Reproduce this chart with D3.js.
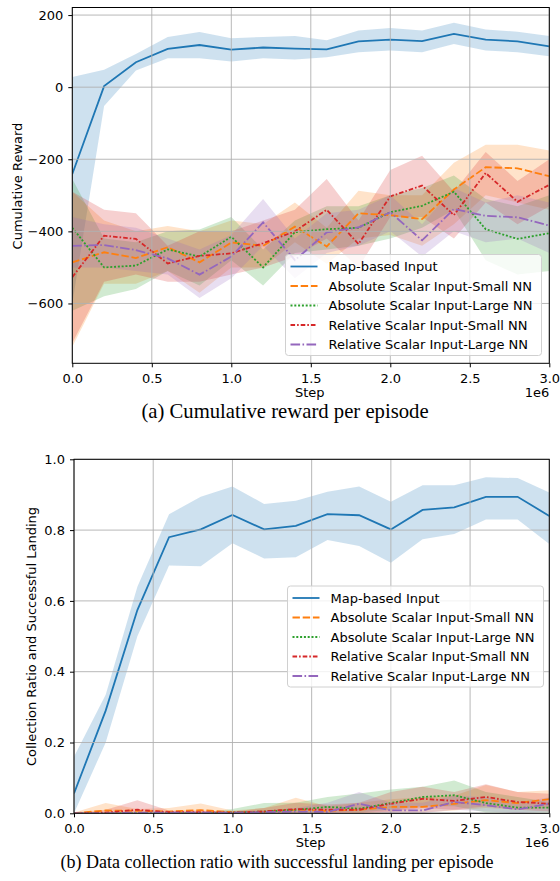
<!DOCTYPE html>
<meta charset="utf-8">
<style>
body { margin: 0; background: #fff; }
text { font-family: "DejaVu Sans", sans-serif; fill: #000; }
.caption { font-family: "Liberation Serif", "Times New Roman", serif; }
.grid line { stroke: #b0b0b0; stroke-width: 0.9px; }
</style>
<body>
<script src="https://d3js.org/d3.v7.min.js"></script>
<script>

// training steps (x 1e6)
var stepsM = [0, 0.2, 0.4, 0.6, 0.8, 1.0, 1.2, 1.4, 1.6, 1.8, 2.0, 2.2, 2.4, 2.6, 2.8, 3.0];
var xTicks = [0, 0.5, 1.0, 1.5, 2.0, 2.5, 3.0];

var seriesNames = ["Map-based Input", "Absolute Scalar Input-Small NN", "Absolute Scalar Input-Large NN",
                   "Relative Scalar Input-Small NN", "Relative Scalar Input-Large NN"];

// (a) cumulative reward: mean and shaded band
var rewardMap      = [-241, 3, 69, 106, 117, 104, 110, 107, 105, 127, 132, 128, 148, 132, 127, 113];
var rewardMapLo    = [-600, -52, 46, 80, 80, 71, 80, 77, 83, 97, 102, 97, 120, 102, 97, 86];
var rewardMapHi    = [28, 48, 92, 139, 153, 136, 139, 142, 130, 157, 164, 157, 179, 160, 154, 142];
var rewardAbsSmall   = [-486, -458, -474, -444, -486, -431, -440, -387, -442, -350, -355, -366, -284, -222, -225, -247];
var rewardAbsSmallLo = [-720, -545, -545, -510, -570, -500, -500, -430, -490, -420, -410, -440, -380, -300, -320, -340];
var rewardAbsSmallHi = [-290, -370, -400, -385, -400, -370, -380, -320, -390, -287, -300, -300, -210, -160, -160, -176];
var rewardAbsLarge   = [-390, -500, -495, -450, -470, -415, -500, -402, -394, -390, -347, -329, -290, -394, -421, -405];
var rewardAbsLargeLo = [-620, -580, -560, -510, -550, -480, -550, -460, -450, -440, -420, -390, -340, -480, -520, -510];
var rewardAbsLargeHi = [-255, -420, -430, -400, -395, -360, -450, -370, -330, -330, -300, -280, -245, -310, -330, -300];
var rewardRelSmall   = [-527, -412, -421, -489, -468, -461, -433, -400, -340, -435, -303, -273, -355, -238, -318, -271];
var rewardRelSmallLo = [-710, -540, -520, -540, -540, -520, -500, -470, -420, -500, -360, -360, -420, -320, -380, -330];
var rewardRelSmallHi = [-290, -340, -350, -440, -400, -400, -370, -340, -255, -370, -230, -190, -290, -180, -260, -200];
var rewardRelLarge   = [-440, -438, -452, -475, -520, -470, -375, -480, -403, -389, -347, -425, -338, -357, -361, -384];
var rewardRelLargeLo = [-500, -500, -510, -520, -585, -530, -440, -530, -460, -440, -400, -470, -400, -430, -420, -460];
var rewardRelLargeHi = [-360, -380, -390, -420, -450, -410, -310, -420, -350, -340, -300, -380, -280, -320, -300, -320];
var rewardTicks = [-600, -400, -200, 0, 200];

// (b) collection ratio with successful landing
var ratioMap      = [0.056, 0.29, 0.574, 0.78, 0.802, 0.843, 0.802, 0.812, 0.845, 0.842, 0.802, 0.857, 0.864, 0.894, 0.894, 0.84];
var ratioMapLo    = [0.0, 0.2, 0.5, 0.7, 0.698, 0.763, 0.72, 0.723, 0.772, 0.755, 0.708, 0.774, 0.789, 0.83, 0.83, 0.761];
var ratioMapHi    = [0.16, 0.335, 0.64, 0.845, 0.894, 0.923, 0.874, 0.883, 0.908, 0.923, 0.88, 0.927, 0.927, 0.949, 0.947, 0.906];
var ratioAbsSmall   = [0.0, 0.008, 0.007, 0.005, 0.009, 0.003, 0.005, 0.01, 0.007, 0.01, 0.018, 0.018, 0.027, 0.037, 0.029, 0.04];
var ratioAbsSmallLo = [0, 0, 0, 0, 0, 0, 0, 0, 0, 0, 0.002, 0.002, 0.008, 0.015, 0.01, 0.015];
var ratioAbsSmallHi = [0.002, 0.029, 0.012, 0.015, 0.028, 0.008, 0.015, 0.044, 0.02, 0.03, 0.04, 0.045, 0.05, 0.08, 0.06, 0.065];
var ratioAbsLarge   = [0, 0, 0, 0, 0, 0.002, 0.005, 0.01, 0.018, 0.013, 0.029, 0.046, 0.051, 0.029, 0.016, 0.016];
var ratioAbsLargeLo = [0, 0, 0, 0, 0, 0, 0, 0, 0.005, 0.002, 0.01, 0.02, 0.02, 0.002, 0.002, 0.002];
var ratioAbsLargeHi = [0, 0, 0, 0, 0, 0.012, 0.029, 0.03, 0.046, 0.056, 0.067, 0.075, 0.093, 0.06, 0.046, 0.032];
var ratioRelSmall   = [0, 0.002, 0.01, 0.003, 0.003, 0.002, 0.005, 0.012, 0.01, 0.01, 0.027, 0.041, 0.035, 0.046, 0.032, 0.027];
var ratioRelSmallLo = [0, 0, 0, 0, 0, 0, 0, 0, 0, 0, 0.005, 0.015, 0.01, 0.02, 0.01, 0.005];
var ratioRelSmallHi = [0.002, 0.01, 0.037, 0.008, 0.008, 0.005, 0.015, 0.03, 0.025, 0.03, 0.06, 0.075, 0.06, 0.082, 0.06, 0.055];
var ratioRelLarge   = [0, 0, 0.002, 0.002, 0.002, 0.002, 0.003, 0.005, 0.004, 0.027, 0.008, 0.008, 0.032, 0.023, 0.011, 0.027];
var ratioRelLargeLo = [0, 0, 0, 0, 0, 0, 0, 0, 0, 0.005, 0, 0, 0.01, 0.005, 0, 0.005];
var ratioRelLargeHi = [0, 0.003, 0.005, 0.005, 0.005, 0.005, 0.008, 0.015, 0.03, 0.06, 0.03, 0.03, 0.05, 0.045, 0.03, 0.045];
var ratioTicks = [0, 0.2, 0.4, 0.6, 0.8, 1.0];

// line styles (matplotlib tab10)
var colors = ["#1f77b4", "#ff7f0e", "#2ca02c", "#d62728", "#9467bd"];
var dashes = [null, "7.4,2.8", "2,1.8", "4.6,2,1.6,2", "9.6,2.4,1.6,2.4"];

var svg = d3.select("body").append("svg")
    .attr("width", 560)
    .attr("height", 881);

function drawPanel(p, idx) {
  var x = d3.scaleLinear().domain([0, 3]).range([p.left, p.right]);
  var y = d3.scaleLinear().domain(p.domain).range([p.bottom, p.top]);

  var g = svg.append("g");

  g.append("clipPath").attr("id", "clip" + idx)
    .append("rect")
      .attr("x", p.left).attr("y", p.top)
      .attr("width", p.right - p.left).attr("height", p.bottom - p.top);

  var plot = g.append("g").attr("clip-path", "url(#clip" + idx + ")");

  // shaded bands
  p.series.forEach(function(s, i) {
    var area = d3.area()
        .x(function(d, j) { return x(stepsM[j]); })
        .y0(function(d, j) { return y(s.lo[j]); })
        .y1(function(d, j) { return y(s.hi[j]); });
    plot.append("path")
        .datum(s.mean)
        .attr("d", area)
        .attr("fill", colors[i])
        .attr("fill-opacity", 0.22);
  });

  // grid
  var grid = g.append("g").attr("class", "grid");
  grid.selectAll(".gx").data(xTicks).enter().append("line")
      .attr("x1", function(d) { return x(d); }).attr("x2", function(d) { return x(d); })
      .attr("y1", p.top).attr("y2", p.bottom);
  grid.selectAll(".gy").data(p.yTicks).enter().append("line")
      .attr("x1", p.left).attr("x2", p.right)
      .attr("y1", function(d) { return y(d); }).attr("y2", function(d) { return y(d); });

  // mean lines
  p.series.forEach(function(s, i) {
    var line = d3.line()
        .x(function(d, j) { return x(stepsM[j]); })
        .y(function(d) { return y(d); });
    plot.append("path")
        .datum(s.mean)
        .attr("d", line)
        .attr("fill", "none")
        .attr("stroke", colors[i])
        .attr("stroke-width", 1.8)
        .attr("stroke-dasharray", dashes[i]);
  });

  // frame
  g.append("rect")
      .attr("x", p.left).attr("y", p.top)
      .attr("width", p.right - p.left).attr("height", p.bottom - p.top)
      .attr("fill", "none").attr("stroke", "#000").attr("stroke-width", 1);

  // axes
  var xAxis = g.append("g")
      .attr("transform", "translate(0," + p.bottom + ")")
      .call(d3.axisBottom(x).tickValues(xTicks).tickFormat(d3.format(".1f")).tickSize(4).tickPadding(6));
  var yAxis = g.append("g")
      .attr("transform", "translate(" + p.left + ",0)")
      .call(d3.axisLeft(y).tickValues(p.yTicks).tickFormat(p.yFmt).tickSize(4).tickPadding(5));
  [xAxis, yAxis].forEach(function(a) {
    a.select(".domain").remove();
    a.selectAll("text").style("font-size", "13px").style("font-family", "DejaVu Sans");
    a.selectAll("line").attr("stroke", "#000");
  });

  g.append("text")
      .attr("x", (p.left + p.right) / 2 - 1)
      .attr("y", p.bottom + 33.5)
      .attr("text-anchor", "middle")
      .style("font-size", "13px")
      .text("Step");
  g.append("text")
      .attr("x", p.right)
      .attr("y", p.bottom + 33.5)
      .attr("text-anchor", "end")
      .style("font-size", "13px")
      .text("1e6");

  g.append("text")
      .attr("transform", "translate(" + p.yLabelX + "," + p.yLabelY + ") rotate(-90)")
      .attr("text-anchor", "middle")
      .style("font-size", "13px")
      .text(p.yLabel);

  g.append("text")
      .attr("class", "caption")
      .attr("x", p.captionX)
      .attr("y", p.bottom + 55)
      .attr("text-anchor", "middle")
      .style("font-size", p.captionSize + "px")
      .text(p.caption);

  // legend
  var lg = g.append("g").attr("transform", "translate(" + p.legendX + "," + p.legendY + ")");
  lg.append("rect")
      .attr("width", 256).attr("height", 101).attr("rx", 3)
      .attr("fill", "#fff").attr("fill-opacity", 0.8)
      .attr("stroke", "#d0d0d0").attr("stroke-width", 1);
  seriesNames.forEach(function(name, i) {
    var yy = 12 + i * 19.5;
    lg.append("line")
        .attr("x1", 5).attr("x2", 32).attr("y1", yy).attr("y2", yy)
        .attr("stroke", colors[i]).attr("stroke-width", 1.8)
        .attr("stroke-dasharray", dashes[i]);
    lg.append("text")
        .attr("x", 43).attr("y", yy + 4.6)
        .style("font-size", "13px")
        .text(name);
  });
}

drawPanel({
  left: 72.3, right: 549.3, top: 7.5, bottom: 363.3,
  domain: [-766, 221], yTicks: rewardTicks, yFmt: d3.format("d"),
  yLabel: "Cumulative Reward", yLabelX: 21.5, yLabelY: 186,
  caption: "(a) Cumulative reward per episode", captionX: 285, captionSize: 20.7,
  legendX: 285.5, legendY: 254.5,
  series: [
    {mean: rewardMap, lo: rewardMapLo, hi: rewardMapHi},
    {mean: rewardAbsSmall, lo: rewardAbsSmallLo, hi: rewardAbsSmallHi},
    {mean: rewardAbsLarge, lo: rewardAbsLargeLo, hi: rewardAbsLargeHi},
    {mean: rewardRelSmall, lo: rewardRelSmallLo, hi: rewardRelSmallHi},
    {mean: rewardRelLarge, lo: rewardRelLargeLo, hi: rewardRelLargeHi}
  ]
}, 0);

drawPanel({
  left: 74, right: 549.3, top: 459.3, bottom: 813.3,
  domain: [0, 1], yTicks: ratioTicks, yFmt: d3.format(".1f"),
  yLabel: "Collection Ratio and Successful Landing", yLabelX: 35.5, yLabelY: 636.5,
  caption: "(b) Data collection ratio with successful landing per episode", captionX: 277, captionSize: 18,
  legendX: 287.5, legendY: 586,
  series: [
    {mean: ratioMap, lo: ratioMapLo, hi: ratioMapHi},
    {mean: ratioAbsSmall, lo: ratioAbsSmallLo, hi: ratioAbsSmallHi},
    {mean: ratioAbsLarge, lo: ratioAbsLargeLo, hi: ratioAbsLargeHi},
    {mean: ratioRelSmall, lo: ratioRelSmallLo, hi: ratioRelSmallHi},
    {mean: ratioRelLarge, lo: ratioRelLargeLo, hi: ratioRelLargeHi}
  ]
}, 1);

</script>
</body>
